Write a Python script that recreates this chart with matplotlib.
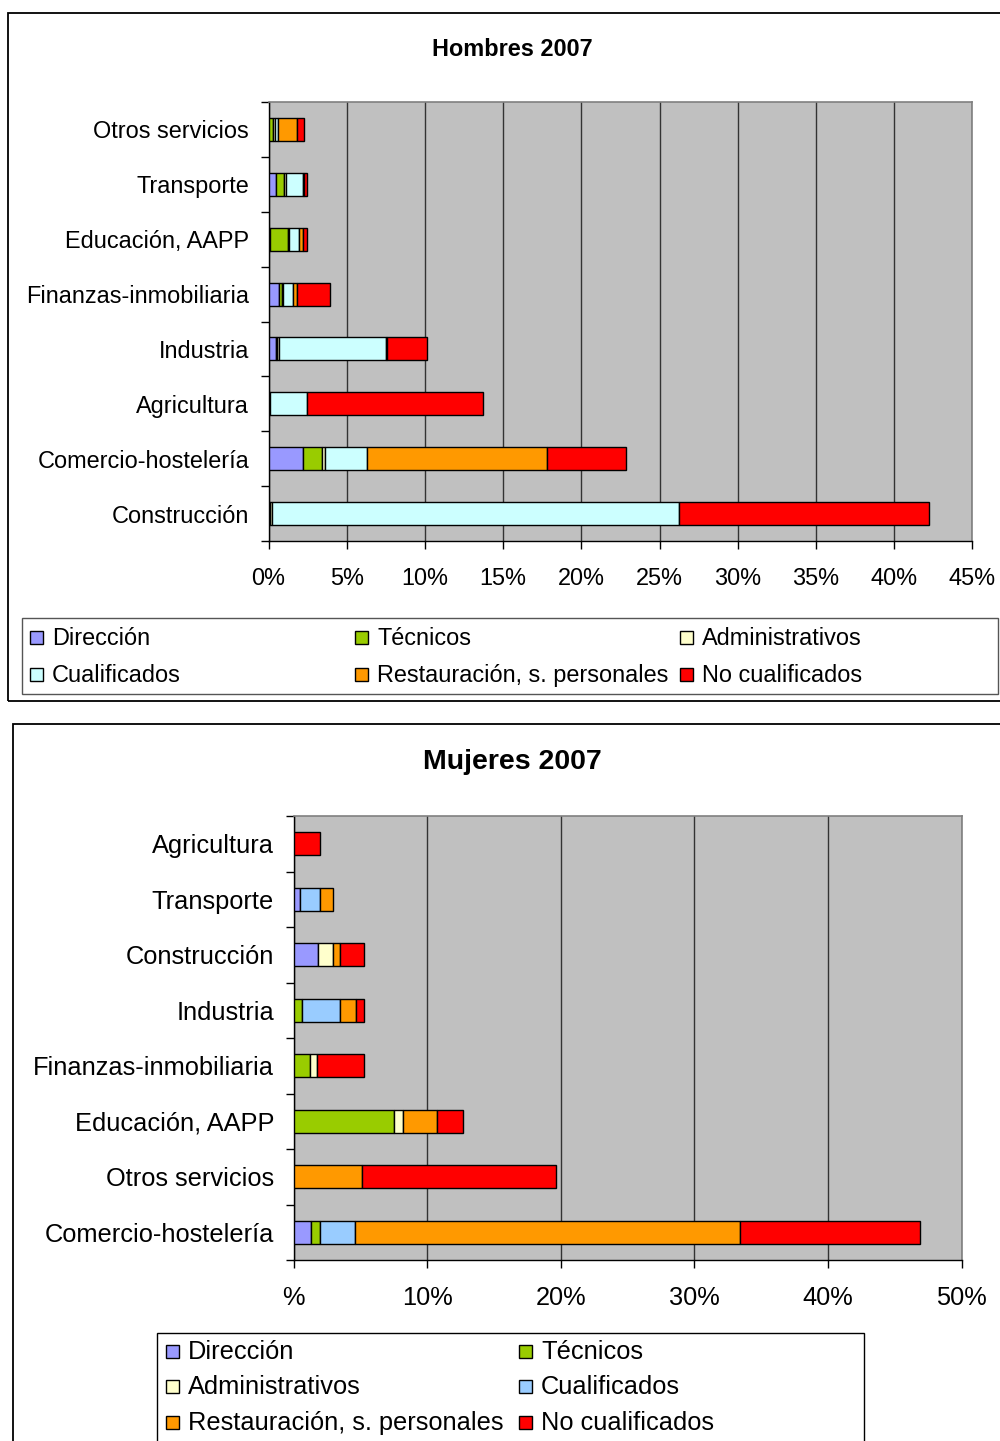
import numpy as np
import matplotlib
matplotlib.use("Agg")
import matplotlib.pyplot as plt
from matplotlib.patches import Rectangle

plt.rcParams['font.family'] = ['Liberation Sans', 'DejaVu Sans']

# --- Data ---
series = ["Dirección", "Técnicos", "Administrativos", "Cualificados",
          "Restauración, s. personales", "No cualificados"]

# Hombres 2007 (top to bottom as shown)
cats_h = ["Otros servicios", "Transporte", "Educación, AAPP", "Finanzas-inmobiliaria",
          "Industria", "Agricultura", "Comercio-hostelería", "Construcción"]
h_direccion = [0.04, 0.47, 0.08, 0.66, 0.45, 0.05, 2.21, 0.05]
h_tecnicos = [0.22, 0.50, 1.19, 0.23, 0.10, 0.03, 1.21, 0.05]
h_admin = [0.17, 0.13, 0.02, 0.03, 0.10, 0.02, 0.22, 0.10]
h_cualif = [0.19, 1.11, 0.64, 0.65, 6.89, 2.33, 2.66, 26.05]
h_restaur = [1.18, 0.03, 0.26, 0.22, 0.02, 0.00, 11.47, 0.00]
h_nocualif = [0.45, 0.20, 0.26, 2.17, 2.56, 11.25, 5.05, 15.95]

# Mujeres 2007 (top to bottom as shown)
cats_m = ["Agricultura", "Transporte", "Construcción", "Industria",
          "Finanzas-inmobiliaria", "Educación, AAPP", "Otros servicios", "Comercio-hostelería"]
m_direccion = [0.00, 0.52, 1.87, 0.00, 0.00, 0.00, 0.00, 1.32]
m_tecnicos = [0.00, 0.00, 0.00, 0.65, 1.20, 7.53, 0.00, 0.65]
m_admin = [0.00, 0.00, 1.10, 0.00, 0.55, 0.67, 0.00, 0.00]
m_cualif = [0.00, 1.45, 0.00, 2.84, 0.00, 0.00, 0.00, 2.60]
m_restaur = [0.00, 1.00, 0.50, 1.20, 0.00, 2.57, 5.11, 28.83]
m_nocualif = [2.02, 0.00, 1.77, 0.55, 3.50, 1.92, 14.57, 13.48]

x_ticks_h = [0, 5, 10, 15, 20, 25, 30, 35, 40, 45]
x_labels_h = ["0%", "5%", "10%", "15%", "20%", "25%", "30%", "35%", "40%", "45%"]
x_ticks_m = [0, 10, 20, 30, 40, 50]
x_labels_m = ["%", "10%", "20%", "30%", "40%", "50%"]

colors_h = ["#9999FF", "#99CC00", "#FFFFCC", "#CCFFFF", "#FF9900", "#FF0000"]
colors_m = ["#9999FF", "#99CC00", "#FFFFCC", "#99CCFF", "#FF9900", "#FF0000"]

W, H = 1000, 1441
fig = plt.figure(figsize=(W / 100, H / 100), dpi=100)


def fx(x):
    return x / W


def fy(y):
    return 1 - y / H


def box(x0, y0, x1, y1, lw=1.2, ec="black"):
    fig.add_artist(Rectangle((fx(x0), fy(y1)), fx(x1) - fx(x0), fy(y0) - fy(y1),
                             transform=fig.transFigure, fill=False, ec=ec, lw=lw))


def draw_chart(rect, cats, data, colors, xmax, xt, xl, fs):
    x0, y0, x1, y1 = rect
    ax = fig.add_axes([fx(x0), fy(y1), fx(x1) - fx(x0), fy(y0) - fy(y1)])
    ax.set_facecolor("#C0C0C0")
    n = len(cats)
    ypos = np.arange(n)[::-1]
    left = np.zeros(n)
    for vals, c in zip(data, colors):
        vals = np.array(vals)
        m = vals > 0
        ax.barh(ypos[m], vals[m], left=left[m], height=0.42, color=c,
                edgecolor="black", linewidth=1.0, zorder=3)
        left += vals
    ax.set_xlim(0, xmax)
    ax.set_ylim(-0.5, n - 0.5)
    ax.set_xticks(xt)
    ax.set_xticklabels(xl, fontsize=fs)
    ax.set_yticks(ypos)
    ax.set_yticklabels(cats, fontsize=fs)
    ax.set_yticks(np.arange(-0.5, n, 1.0), minor=True)
    ax.tick_params(axis="y", which="major", length=0, pad=14)
    ax.tick_params(axis="y", which="minor", length=6, width=1, direction="out")
    ax.tick_params(axis="x", length=6, width=1, direction="out", pad=13)
    ax.grid(axis="x", color="#333333", linewidth=1.0, zorder=1)
    ax.set_axisbelow(True)
    for s in ["top", "right"]:
        ax.spines[s].set_color("#808080")
        ax.spines[s].set_linewidth(1.2)
    for s in ["left", "bottom"]:
        ax.spines[s].set_color("black")
        ax.spines[s].set_linewidth(1.0)
    return ax


def draw_legend(entries, colors, positions, fs):
    for (label, c, (mx, my)) in zip(entries, colors, positions):
        fig.add_artist(Rectangle((fx(mx), fy(my + 6)), fx(13), 13 / H,
                                 transform=fig.transFigure, fc=c, ec="black", lw=1.0))
        fig.text(fx(mx + 22), fy(my), label, fontsize=fs, va="center", ha="left")


# --- Panel borders ---
box(8, 13, 1010, 701, lw=1.3)
box(13, 724, 1010, 1450, lw=1.3)

# --- Hombres 2007 ---
fig.text(fx(512), fy(50), "Hombres 2007", fontsize=16.9, fontweight="bold",
         ha="center", va="center")
draw_chart((268.5, 102, 972.5, 541), cats_h,
           [h_direccion, h_tecnicos, h_admin, h_cualif, h_restaur, h_nocualif],
           colors_h, 45, x_ticks_h, x_labels_h, 16.9)
box(22, 618, 998, 694, lw=1.0, ec="#555555")
pos_h = [(30, 638), (355, 638), (680, 638), (30, 675), (355, 675), (680, 675)]
draw_legend(series, colors_h, pos_h, 16.9)

# --- Mujeres 2007 ---
fig.text(fx(512), fy(762), "Mujeres 2007", fontsize=20.5, fontweight="bold",
         ha="center", va="center")
draw_chart((293.5, 816, 961.5, 1260), cats_m,
           [m_direccion, m_tecnicos, m_admin, m_cualif, m_restaur, m_nocualif],
           colors_m, 50, x_ticks_m, x_labels_m, 18.3)
box(157, 1333, 864, 1450, lw=1.0)
pos_m = [(166, 1352), (519, 1352), (166, 1387), (519, 1387), (166, 1423), (519, 1423)]
draw_legend(series, colors_m, pos_m, 18.3)

fig.savefig("out.png", dpi=100)
